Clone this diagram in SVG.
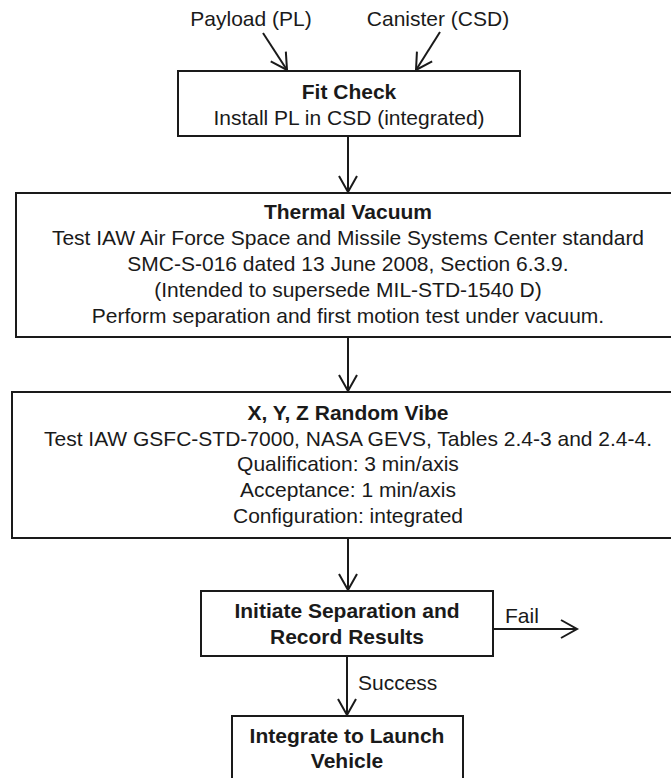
<svg xmlns="http://www.w3.org/2000/svg" width="671" height="778" viewBox="0 0 671 778">
  <defs>
    <marker id="open" markerUnits="userSpaceOnUse" markerWidth="24" markerHeight="24" viewBox="-20 -12 24 24" refX="0" refY="0" orient="auto" overflow="visible">
      <path d="M-16,-9 L0,0 L-16,9" fill="none" stroke="#1a1a1a" stroke-width="2"/>
    </marker>
  </defs>
  <style>
    text { font-family: "Liberation Sans", Arial, sans-serif; font-size: 21px; fill: #1a1a1a; text-anchor: middle; }
    .b { font-weight: bold; }
    .l { text-anchor: start; }
    rect.box { fill: #ffffff; stroke: #1a1a1a; stroke-width: 2; }
    .edge { fill: none; stroke: #1a1a1a; stroke-width: 2; marker-end: url(#open); }
  </style>
  <rect width="671" height="778" fill="#ffffff"/>

  <g id="payload">
    <text x="251" y="26">Payload (PL)</text>
  </g>
  <g id="canister">
    <text x="438" y="26">Canister (CSD)</text>
  </g>

  <g id="fitcheck">
    <rect class="box" x="178" y="71" width="342" height="65"/>
    <text class="b" x="349" y="99">Fit Check</text>
    <text x="349" y="125">Install PL in CSD (integrated)</text>
  </g>

  <g id="thermal">
    <rect class="box" x="16" y="193" width="664" height="144"/>
    <text class="b" x="348" y="219">Thermal Vacuum</text>
    <text x="348" y="245">Test IAW Air Force Space and Missile Systems Center standard</text>
    <text x="348" y="271">SMC-S-016 dated 13 June 2008, Section 6.3.9.</text>
    <text x="348" y="297">(Intended to supersede MIL-STD-1540 D)</text>
    <text x="348" y="323">Perform separation and first motion test under vacuum.</text>
  </g>

  <g id="vibe">
    <rect class="box" x="12" y="392" width="672" height="146"/>
    <text class="b" x="348" y="420">X, Y, Z Random Vibe</text>
    <text x="348" y="446">Test IAW GSFC-STD-7000, NASA GEVS, Tables 2.4-3 and 2.4-4.</text>
    <text x="348" y="471">Qualification: 3 min/axis</text>
    <text x="348" y="497">Acceptance: 1 min/axis</text>
    <text x="348" y="523">Configuration: integrated</text>
  </g>

  <g id="separation">
    <rect class="box" x="201" y="591" width="292" height="65"/>
    <text class="b" x="347" y="618">Initiate Separation and</text>
    <text class="b" x="347" y="644">Record Results</text>
  </g>

  <g id="integrate">
    <rect class="box" x="232" y="716" width="231" height="80"/>
    <text class="b" x="347" y="743">Integrate to Launch</text>
    <text class="b" x="347" y="768">Vehicle</text>
  </g>

  <g id="connectors">
    <line class="edge" x1="263" y1="33" x2="287" y2="70"/>
    <line class="edge" x1="440" y1="32" x2="416" y2="70"/>
    <line class="edge" x1="348" y1="136" x2="348" y2="192"/>
    <line class="edge" x1="348" y1="337" x2="348" y2="391"/>
    <line class="edge" x1="348" y1="538" x2="348" y2="590"/>
    <line class="edge" x1="493" y1="629" x2="577" y2="629"/>
    <line class="edge" x1="347" y1="656" x2="347" y2="715"/>
    <text class="l" x="505" y="623">Fail</text>
    <text class="l" x="358" y="690">Success</text>
  </g>
</svg>
